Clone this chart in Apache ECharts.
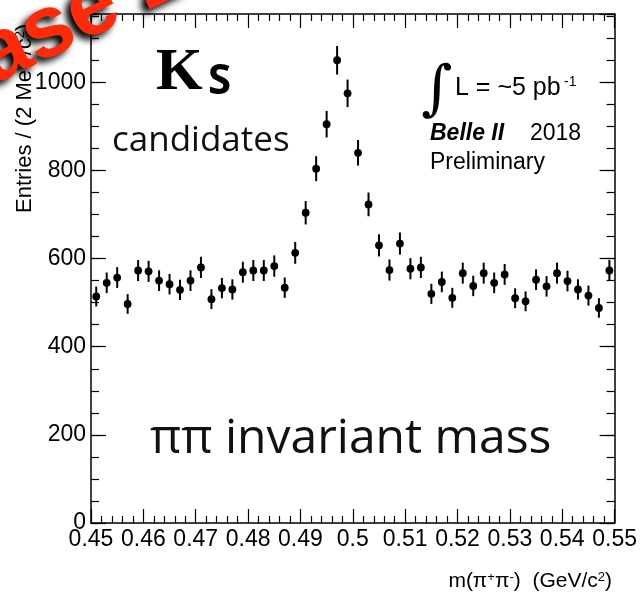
<!DOCTYPE html>
<html>
<head>
<meta charset="utf-8">
<script src="https://cdn.jsdelivr.net/npm/echarts@6/dist/echarts.min.js"></script>
<style>
  html, body { margin: 0; padding: 0; background: #fff; }
  #chart { width: 640px; height: 595px; }
</style>
</head>
<body>
<div id="chart"></div>
<script>
// Bin centres of m(pi+ pi-) in GeV/c^2 (2 MeV bins)
const masses = [
  0.451, 0.453, 0.455, 0.457, 0.459, 0.461, 0.463, 0.465, 0.467, 0.469,
  0.471, 0.473, 0.475, 0.477, 0.479, 0.481, 0.483, 0.485, 0.487, 0.489,
  0.491, 0.493, 0.495, 0.497, 0.499, 0.501, 0.503, 0.505, 0.507, 0.509,
  0.511, 0.513, 0.515, 0.517, 0.519, 0.521, 0.523, 0.525, 0.527, 0.529,
  0.531, 0.533, 0.535, 0.537, 0.539, 0.541, 0.543, 0.545, 0.547, 0.549
];
// Entries per bin
const counts = [
  514, 545, 557, 497, 573, 571, 550, 542, 529, 550,
  580, 508, 533, 530, 569, 573, 573, 583, 534, 613,
  704, 804, 905, 1050, 975, 840, 723, 630, 574, 634,
  577, 580, 520, 547, 511, 567, 538, 567, 545, 564,
  510, 503, 552, 537, 567, 549, 530, 516, 488, 573
];
// Axis ranges and tick spacing
const xRange = [0.45, 0.55];
const xMajor = 0.01;
const yRange = [0, 1155];
const yMajor = 200;
const yMinor = 50;

const SANS = '"Liberation Sans", Arial, sans-serif';
const BLACK = '#000';

// Poisson error bars
const points = masses.map((m, i) => [m, counts[i], Math.sqrt(counts[i])]);

const frameLine = { show: true, onZero: false, lineStyle: { color: BLACK, width: 1.5 } };
const noSplit = { show: false };

function xAx(pos, labels) {
  return {
    type: 'value', position: pos, min: xRange[0], max: xRange[1], interval: xMajor,
    axisLine: frameLine,
    axisTick: { show: true, inside: true, length: 14, lineStyle: { color: BLACK, width: 1.2 } },
    minorTick: { show: true, splitNumber: 5, length: 7, lineStyle: { color: BLACK, width: 1.2 } },
    axisLabel: labels ? {
      show: true, color: BLACK, fontFamily: SANS, fontSize: 23, margin: 5,
      formatter: v => String(+(+v).toFixed(2))
    } : { show: false },
    splitLine: noSplit, minorSplitLine: noSplit
  };
}
function yAx(pos, step, len, labels, line) {
  return {
    type: 'value', position: pos, min: yRange[0], max: yRange[1], interval: step,
    axisLine: line ? frameLine : { show: false },
    axisTick: { show: true, inside: true, length: len, lineStyle: { color: BLACK, width: 1.2 } },
    axisLabel: labels ? {
      show: true, color: BLACK, fontFamily: SANS, fontSize: 23, margin: 5, showMaxLabel: false,
      formatter: v => String(Math.round(v))
    } : { show: false },
    splitLine: noSplit
  };
}

function txt(x, y, text, font, extra) {
  return {
    type: 'text', x: x, y: y, z: 10,
    style: Object.assign({ text: text, font: font, fill: '#000', textAlign: 'left', textVerticalAlign: 'middle' }, extra || {})
  };
}

const option = {
  animation: false,
  backgroundColor: '#fff',
  grid: { left: 91, right: 25, top: 14, bottom: 72, containLabel: false },
  xAxis: [xAx('bottom', true), xAx('top', false)],
  yAxis: [
    yAx('left', yMajor, 15, true, true),
    yAx('left', yMinor, 8, false, false),
    yAx('right', yMajor, 15, false, true),
    yAx('right', yMinor, 8, false, false)
  ],
  series: [{
    type: 'custom',
    xAxisIndex: 0, yAxisIndex: 0,
    data: points,
    clip: false,
    renderItem: function (params, api) {
      const x = api.value(0), y = api.value(1), e = api.value(2);
      const c = api.coord([x, y]);
      const hi = api.coord([x, y + e]);
      const lo = api.coord([x, y - e]);
      return {
        type: 'group',
        children: [
          { type: 'line', shape: { x1: c[0], y1: hi[1], x2: c[0], y2: lo[1] },
            style: { stroke: '#000', lineWidth: 2 } },
          { type: 'circle', shape: { cx: c[0], cy: c[1], r: 3.9 }, style: { fill: '#000' } }
        ]
      };
    }
  }],
  graphic: [
    txt(156, 73, 'K', 'bold 60px "Liberation Serif", serif'),
    txt(208, 82, 'S', 'bold 42px "Noto Sans", sans-serif'),
    txt(112, 141, 'candidates', '35px "Open Sans", sans-serif', { fill: '#111' }),
    txt(150, 439, 'ππ invariant mass', '48px "Open Sans", sans-serif', { fill: '#111' }),
    txt(421, 92, '∫', 'italic 60px "DejaVu Serif", serif'),
    txt(455, 88, 'L = ~5 pb', '25px ' + SANS),
    txt(564, 82, '-1', '14px ' + SANS),
    txt(430, 134, 'Belle II', 'italic bold 23px ' + SANS),
    txt(530, 134, '2018', '23px ' + SANS),
    txt(430, 163, 'Preliminary', '23px ' + SANS),
    {
      type: 'text', x: 612, y: 581, z: 10,
      style: {
        text: '{n|m(π}{s|+}{n|π}{s|-}{n|)  (GeV/c}{s|2}{n|)}',
        textAlign: 'right', textVerticalAlign: 'middle', fill: '#000',
        rich: {
          n: { fontFamily: SANS, fontSize: 21, color: '#000' },
          s: { fontFamily: SANS, fontSize: 13, color: '#000', verticalAlign: 'top' }
        }
      }
    },
    {
      type: 'text', x: 25, y: 213, rotation: Math.PI / 2, z: 10,
      style: {
        text: '{n|Entries / (2 MeV/c}{s|2}{n|)}',
        textAlign: 'left', textVerticalAlign: 'middle', fill: '#000',
        rich: {
          n: { fontFamily: SANS, fontSize: 22, color: '#000' },
          s: { fontFamily: SANS, fontSize: 13, color: '#000', verticalAlign: 'top' }
        }
      }
    },
    {
      type: 'text', x: -119, y: 112, rotation: 0.45, z: 100,
      style: {
        text: 'Phase 2',
        font: 'bold 88px "Liberation Sans", Arial, sans-serif',
        fill: '#ff2a0a', textAlign: 'left', textVerticalAlign: 'middle',
        shadowBlur: 7, shadowColor: '#000', shadowOffsetX: -5, shadowOffsetY: 5,
        textShadowBlur: 7, textShadowColor: '#000', textShadowOffsetX: -5, textShadowOffsetY: 5
      }
    }
  ]
};

const chart = echarts.init(document.getElementById('chart'), null, { renderer: 'canvas' });
chart.setOption(option);
</script>
</body>
</html>
